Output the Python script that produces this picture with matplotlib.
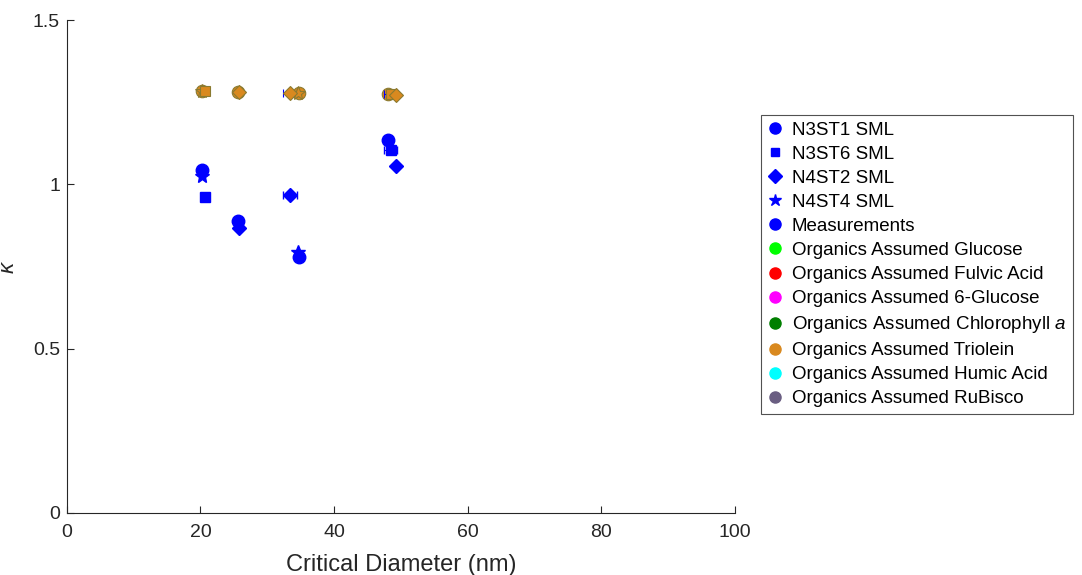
import matplotlib
matplotlib.use('Agg')
from matplotlib import pyplot as plt
from matplotlib.lines import Line2D

plt.rcParams['font.family'] = ['Liberation Sans', 'DejaVu Sans']
plt.rcParams['mathtext.fontset'] = 'custom'
plt.rcParams['mathtext.it'] = 'Liberation Sans:italic'

# measured kappa per sample
n3st1_d = [20.2, 25.6, 34.8, 48.1]
n3st1_k = [1.043, 0.888, 0.780, 1.136]
n3st1_tri = [1.285, 1.281, 1.277, 1.274]

n3st6_d = [20.7, 48.5]
n3st6_k = [0.961, 1.104]
n3st6_tri = [1.285, 1.274]
n3st6_err = [0.3, 1.0]

n4st2_d = [25.8, 33.4, 49.3]
n4st2_k = [0.866, 0.967, 1.056]
n4st2_tri = [1.281, 1.277, 1.273]
n4st2_err = [0.3, 1.0, 0.3]

n4st4_d = [20.3, 34.6]
n4st4_k = [1.025, 0.795]
n4st4_tri = [1.285, 1.277]

organics = ['Glucose', 'Fulvic Acid', '6-Glucose', 'Chlorophyll $a$',
            'Triolein', 'Humic Acid', 'RuBisco']
org_colors = ['#00FF00', '#FF0000', '#FF00FF', '#007F00',
              '#D9891F', '#00FFFF', '#6A5E82']

blue = '#0000FF'
orange = '#D9891F'
orange_edge = '#8A7A30'
grey = '#262626'

fig = plt.figure(figsize=(10.82, 5.75), dpi=100)
ax = fig.add_axes([0.0619, 0.108, 0.617, 0.857])

# triolein assumption, same marker as the sample
ax.plot(n3st1_d, n3st1_tri, 'o', ms=9, mfc=orange, mec=orange_edge, mew=0.8, ls='none')
ax.errorbar(n3st6_d, n3st6_tri, xerr=n3st6_err, fmt='s', ms=7, mfc=orange, mec=orange_edge,
            mew=0.8, ecolor=blue, elinewidth=0.8, capsize=3)
ax.errorbar(n4st2_d, n4st2_tri, xerr=n4st2_err, fmt='D', ms=7.5, mfc=orange, mec=orange_edge,
            mew=0.8, ecolor=blue, elinewidth=0.8, capsize=3)
ax.plot(n4st4_d, n4st4_tri, '*', ms=10, mfc=orange, mec=orange_edge, mew=0.8, ls='none')

# measurements
ax.plot(n3st1_d, n3st1_k, 'o', ms=9, color=blue, ls='none')
ax.errorbar(n3st6_d, n3st6_k, xerr=n3st6_err, fmt='s', ms=7, color=blue,
            elinewidth=0.8, capsize=3)
ax.errorbar(n4st2_d, n4st2_k, xerr=n4st2_err, fmt='D', ms=7.5, color=blue,
            elinewidth=0.8, capsize=3)
ax.plot(n4st4_d, n4st4_k, '*', ms=10, color=blue, ls='none')

ax.set_xlim(0, 100)
ax.set_ylim(0, 1.5)
ax.set_xticks([0, 20, 40, 60, 80, 100])
ax.set_yticks([0, 0.5, 1, 1.5])
ax.set_yticklabels(['0', '0.5', '1', '1.5'])
ax.spines['top'].set_visible(False)
ax.spines['right'].set_visible(False)
for s in ['left', 'bottom']:
    ax.spines[s].set_color(grey)
    ax.spines[s].set_linewidth(0.8)
ax.tick_params(direction='in', length=5, width=0.8, colors=grey, labelsize=14)
ax.tick_params(axis='x', pad=8)
ax.tick_params(axis='y', pad=5)
ax.set_xlabel('Critical Diameter (nm)', fontsize=17, color=grey, labelpad=9)
ax.set_ylabel(r'$\kappa$', fontsize=16, color=grey, labelpad=10)

handles = [
    Line2D([], [], marker='o', color=blue, ls='none', ms=8),
    Line2D([], [], marker='s', color=blue, ls='none', ms=6),
    Line2D([], [], marker='D', color=blue, ls='none', ms=7),
    Line2D([], [], marker='*', color=blue, ls='none', ms=9),
    Line2D([], [], marker='o', color=blue, ls='none', ms=8),
]
labels = ['N3ST1 SML', 'N3ST6 SML', 'N4ST2 SML', 'N4ST4 SML', 'Measurements']
for name, c in zip(organics, org_colors):
    handles.append(Line2D([], [], marker='o', color=c, ls='none', ms=8))
    labels.append('Organics Assumed ' + name)

leg = fig.legend(handles, labels, loc='upper left', bbox_to_anchor=(0.703, 0.800),
                 fontsize=13.5, frameon=True, fancybox=False, edgecolor=grey,
                 handlelength=0.8, handletextpad=0.5, labelspacing=0.37,
                 borderpad=0.35, borderaxespad=0)
leg.get_frame().set_linewidth(0.8)

fig.savefig('out.png', dpi=100)
